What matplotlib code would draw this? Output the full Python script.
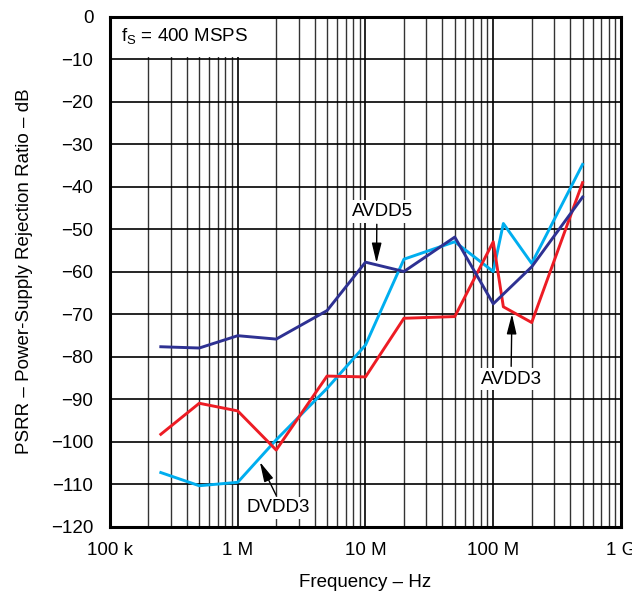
import matplotlib.pyplot as plt
from matplotlib.patches import Rectangle
from matplotlib.ticker import LogLocator, NullFormatter

plt.rcParams['font.family'] = ['Liberation Sans', 'DejaVu Sans']

# frequency points (Hz)
freq_avdd5 = [250e3, 500e3, 1e6, 2e6, 5e6, 10e6, 20e6, 50e6, 100e6, 200e6, 500e6]
psrr_avdd5 = [-77.7, -78.0, -75.1, -75.9, -69.2, -57.8, -60.0, -51.9, -67.6, -58.9, -42.5]

freq_dvdd3 = [250e3, 500e3, 1e6, 2e6, 5e6, 10e6, 20e6, 50e6, 100e6, 120e6, 200e6, 500e6]
psrr_dvdd3 = [-107.3, -110.4, -109.6, -99.6, -87.5, -77.3, -57.1, -53.0, -60.0, -48.7, -58.1, -34.8]

freq_avdd3 = [250e3, 500e3, 1e6, 2e6, 5e6, 10e6, 20e6, 50e6, 100e6, 120e6, 200e6, 500e6]
psrr_avdd3 = [-98.3, -91.0, -92.8, -102.0, -84.6, -84.8, -71.0, -70.6, -53.0, -68.3, -72.0, -39.1]

x_ticks = [1e5, 1e6, 1e7, 1e8, 1e9]
x_labels = ['100 k', '1 M', '10 M', '100 M', '1 G']
y_ticks = list(range(-120, 1, 10))

fs = 13.5

fig = plt.figure(figsize=(6.32, 5.94), dpi=100)
ax = fig.add_axes([0.174, 0.1136, 0.8086, 0.8586])

ax.plot(freq_avdd5, psrr_avdd5, color='#2E3192', lw=2.1, zorder=4)
ax.plot(freq_dvdd3, psrr_dvdd3, color='#00AEEF', lw=2.1, zorder=3)
ax.plot(freq_avdd3, psrr_avdd3, color='#ED1C24', lw=2.1, zorder=3)

ax.set_xscale('log')
ax.set_xlim(1e5, 1e9)
ax.set_ylim(-120, 0)
ax.set_xticks(x_ticks)
ax.set_xticklabels(x_labels)
ax.xaxis.set_minor_locator(LogLocator(base=10, subs=range(2, 10)))
ax.xaxis.set_minor_formatter(NullFormatter())
ax.set_yticks(y_ticks)

ax.grid(which='major', color='black', lw=1.2)
ax.grid(which='minor', axis='x', color='#333333', lw=1.0)
ax.set_axisbelow(True)
ax.tick_params(which='both', length=0, labelsize=fs)
ax.tick_params(axis='y', pad=12)
ax.tick_params(axis='x', pad=11)
for s in ax.spines.values():
    s.set_linewidth(2.2)
    s.set_zorder(6)

ax.set_xlabel('Frequency \u2013 Hz', fontsize=fs, labelpad=11)
ax.set_ylabel('PSRR \u2013 Power-Supply Rejection Ratio \u2013 dB', fontsize=fs, labelpad=13)

ax.add_patch(Rectangle((0, 0.9206), 0.317, 0.0794, transform=ax.transAxes,
                       facecolor='white', edgecolor='none', zorder=2))
ax.text(122e3, -4.9, r'f$_\mathregular{S}$ = 400 MSPS', fontsize=fs, va='center', zorder=5)

box = dict(facecolor='white', edgecolor='none', pad=2)
arrow = dict(arrowstyle='-|>,head_length=0.9,head_width=0.22', color='black', lw=1,
             shrinkA=1, shrinkB=0)
ax.annotate('AVDD5', xy=(12.2e6, -58.0), xytext=(13.7e6, -45.9), fontsize=fs,
            ha='center', va='center', bbox=box, zorder=5,
            arrowprops=dict(arrow, relpos=(0.4, 0)))
ax.annotate('AVDD3', xy=(140e6, -70.0), xytext=(138e6, -85.3), fontsize=fs,
            ha='center', va='center', bbox=box, zorder=5,
            arrowprops=dict(arrow, relpos=(0.5, 1)))
ax.annotate('DVDD3', xy=(1.49e6, -104.8), xytext=(2.07e6, -115.6), fontsize=fs,
            ha='center', va='center', bbox=box, zorder=5,
            arrowprops=dict(arrow, relpos=(0.5, 1)))

fig.savefig('out.png', dpi=100)
